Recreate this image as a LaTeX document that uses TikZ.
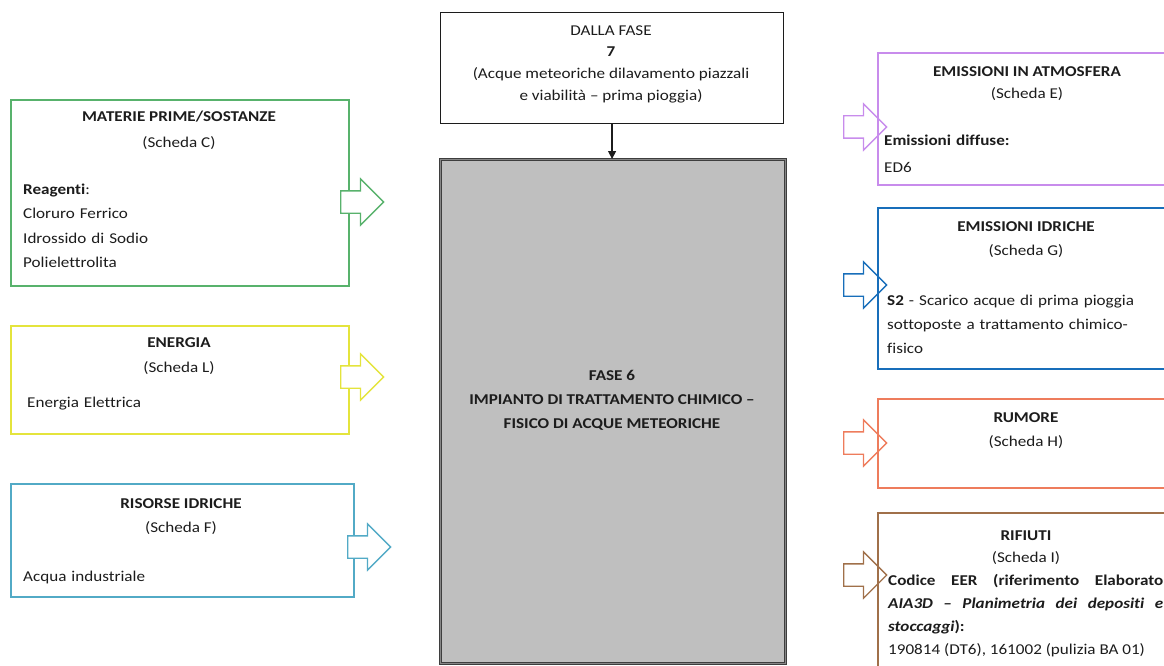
\documentclass[tikz,border=0pt]{standalone}
\usepackage{fontspec}
\setmainfont{Carlito}[FakeStretch=1.14, Ligatures=NoCommon]
\usetikzlibrary{arrows.meta,shapes.arrows,positioning}
\definecolor{phGreen}{RGB}{88,178,108}
\definecolor{phYellow}{RGB}{228,228,60}
\definecolor{phTeal}{RGB}{82,170,198}
\definecolor{phViolet}{RGB}{200,140,236}
\definecolor{phBlue}{RGB}{24,110,186}
\definecolor{phCoral}{RGB}{238,124,92}
\definecolor{phBrown}{RGB}{160,112,74}
\definecolor{phGrey}{RGB}{191,191,191}
\definecolor{phInk}{RGB}{28,28,28}

\begin{document}
\begin{tikzpicture}[x=1pt,y=-1pt,
  panel/.style={draw=#1, line width=1.6pt, inner sep=0pt, anchor=north west},
  head/.style={font=\fontsize{15}{24}\selectfont\bfseries, text=phInk, inner sep=0pt, anchor=base},
  sub/.style={text=phInk, inner sep=0pt, anchor=base},
  body/.style={text=phInk, inner sep=0pt, anchor=base west, align=left, text width=#1},
  flowin/.style={shape=single arrow, draw=#1, fill=white, line width=1.3pt,
    minimum height=43pt, single arrow head extend=12pt,
    inner xsep=0pt, inner ysep=10.5pt, anchor=west},
  flowout/.style={flowin=#1, fill=none},
  every node/.append style={font=\fontsize{15}{24}\selectfont}]
  \useasboundingbox (0,0) rectangle (1164,666);
  \clip (0,0) rectangle (1164,666);
  % input panels
  \node[panel=phGreen, minimum width=338pt, minimum height=186pt] (materie) at (10,99) {};
  \node[panel=phYellow, minimum width=338pt, minimum height=108pt] (energia) at (10,325) {};
  \node[panel=phTeal, minimum width=343pt, minimum height=113pt] (risorse) at (10,483) {};
  \node[head] (materieT) at (179,122) {MATERIE PRIME/SOSTANZE};
  \node[sub] (materieS) at (179,147) {(Scheda C)};
  \node[body=300pt, font=\fontsize{15}{24.5}\selectfont] (materieB) at (23,194)
    {\textbf{Reagenti}:\\Cloruro Ferrico\\Idrossido di Sodio\\Polielettrolita};
  \node[head] (energiaT) at (179,347) {ENERGIA};
  \node[sub] (energiaS) at (179,372) {(Scheda L)};
  \node[body=300pt] (energiaB) at (27,407) {Energia Elettrica};
  \node[head] (risorseT) at (181,508) {RISORSE IDRICHE};
  \node[sub] (risorseS) at (181,532) {(Scheda F)};
  \node[body=300pt] (risorseB) at (23,581) {Acqua industriale};
  \node[flowin=phGreen] (inC) at (340,202) {};
  \node[flowin=phYellow] (inL) at (340,377) {};
  \node[flowin=phTeal] (inF) at (347,547) {};
  % central phase
  \node[panel=phInk, line width=1.1pt, minimum width=343pt, minimum height=111pt] (dalla) at (440,12) {};
  \node[sub] (dallaT) at (611,36) {DALLA FASE};
  \node[head] (dallaN) at (611,57) {7};
  \node[sub, align=center, font=\fontsize{15}{22.5}\selectfont] (dallaB) at (611,101)
    {(Acque meteoriche dilavamento piazzali\\e viabilità – prima pioggia)};
  \node[anchor=north west, inner sep=0pt, fill=phGrey, draw=phInk!85, double=phGrey!70!black,
    double distance=1.6pt, line width=1pt, minimum width=345pt, minimum height=504pt] (fase) at (440,159) {};
  \node[head, align=center, font=\fontsize{15}{24}\selectfont\bfseries] (faseT) at (612,428)
    {FASE 6\\IMPIANTO DI TRATTAMENTO CHIMICO –\\FISICO DI ACQUE METEORICHE};
  \draw[-{Triangle[length=8pt,width=8pt]}, line width=1.2pt, draw=phInk] (dalla.south) -- (dalla.south |- fase.north);
  % output panels
  \node[panel=phViolet, minimum width=300pt, minimum height=132pt] (atmo) at (877,52) {};
  \node[panel=phBlue, minimum width=300pt, minimum height=161pt] (idriche) at (877,207) {};
  \node[panel=phCoral, minimum width=300pt, minimum height=89pt] (rumore) at (877,398) {};
  \node[panel=phBrown, minimum width=300pt, minimum height=170pt] (rifiuti) at (877,512) {};
  \node[head] (atmoT) at (1027,77) {EMISSIONI IN ATMOSFERA};
  \node[sub] (atmoS) at (1027,99) {(Scheda E)};
  \node[body=270pt, font=\fontsize{15}{27}\selectfont] (atmoB) at (884,146) {\textbf{Emissioni diffuse:}\\ED6};
  \node[head] (idricheT) at (1026,231) {EMISSIONI IDRICHE};
  \node[sub] (idricheS) at (1026,255) {(Scheda G)};
  \node[body=280pt] (idricheB) at (887,305)
    {\textbf{S2} - Scarico acque di prima pioggia\\sottoposte a trattamento chimico-\\fisico};
  \node[head] (rumoreT) at (1026,422) {RUMORE};
  \node[sub] (rumoreS) at (1026,446) {(Scheda H)};
  \node[head] (rifiutiT) at (1026,540) {RIFIUTI};
  \node[sub] (rifiutiS) at (1026,562) {(Scheda I)};
  \node[body=275pt, align=justify, font=\fontsize{15}{23.3}\selectfont] (rifiutiB) at (888,585)
    {\textbf{Codice EER (riferimento Elaborato\linebreak \textit{AIA3D – Planimetria dei depositi e}\linebreak \textit{stoccaggi}):}\\190814 (DT6), 161002 (pulizia BA 01)};
  \node[flowout=phViolet] (outE) at (843,127) {};
  \node[flowout=phBlue] (outG) at (843,285) {};
  \node[flowout=phCoral] (outH) at (843,443) {};
  \node[flowout=phBrown] (outI) at (843,575) {};
\end{tikzpicture}
\end{document}
